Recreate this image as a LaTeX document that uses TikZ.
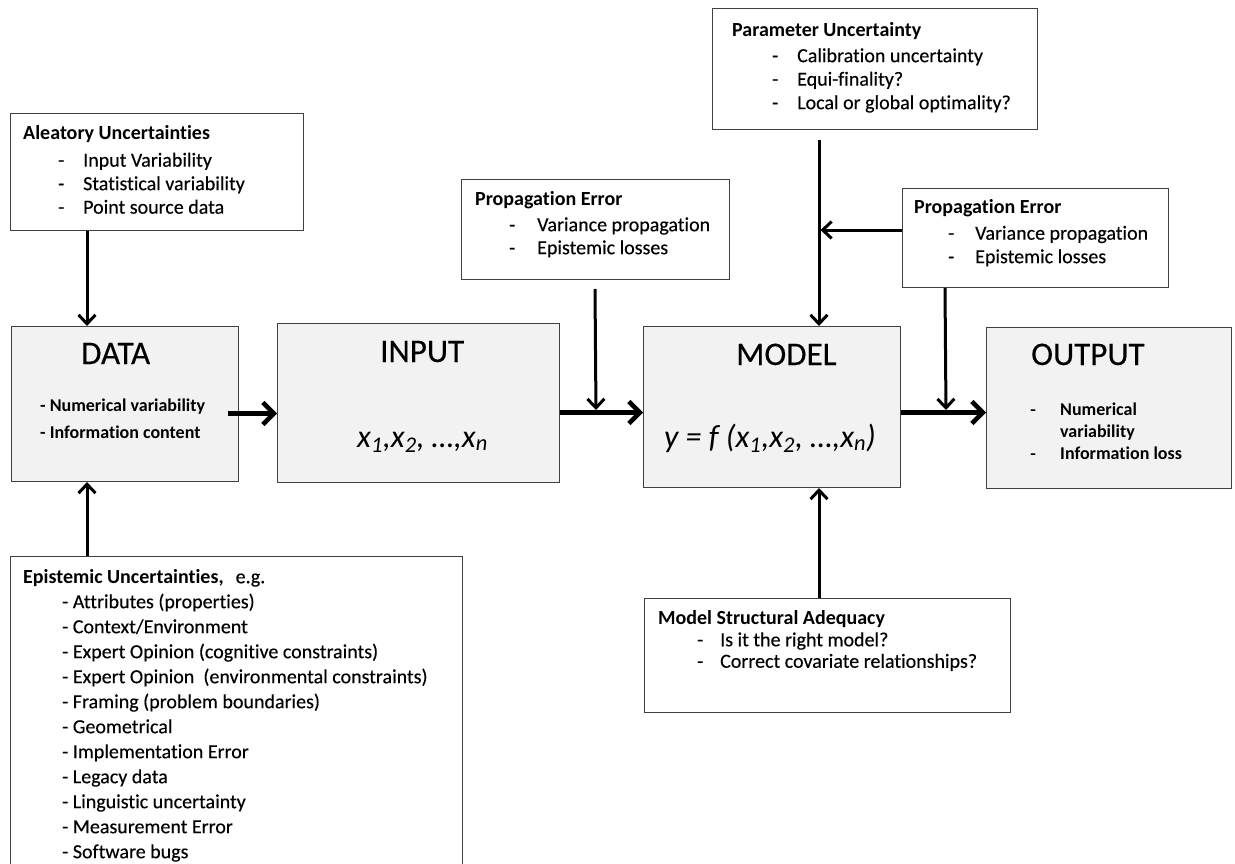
\documentclass[tikz,border=0pt]{standalone}
\usepackage{fontspec}
\setmainfont{Carlito}[UprightFeatures={FakeBold=0.3}, Ligatures=NoCommon]
\usetikzlibrary{arrows.meta,calc}
\definecolor{boxfill}{HTML}{F2F2F2}
\definecolor{boxline}{HTML}{404040}

\begin{document}
\begin{tikzpicture}[x=1pt,y=-1pt,
    box/.style={draw=boxline, line width=1pt, anchor=north west, inner sep=0pt},
    mainbox/.style={box, fill=boxfill},
    txt/.style={anchor=north west, inner sep=0pt, align=left, font=\fontsize{20}{23.5}\selectfont},
    bigtxt/.style={anchor=base west, inner sep=0pt, font=\fontsize{33}{36}\selectfont},
    formula/.style={anchor=base west, inner sep=0pt, font=\fontsize{32}{36}\selectfont\itshape},
    smalltxt/.style={anchor=north west, inner sep=0pt, align=left, font=\fontsize{18}{27}\selectfont\bfseries},
    thin/.style={-{Straight Barb[length=9pt,width=17pt]}, line width=3pt},
    thick/.style={-{Straight Barb[length=11pt,width=22pt]}, line width=4.5pt}]
    \useasboundingbox (0,0) rectangle (1235,864);

    % main chain
    \node[mainbox, minimum width=227pt, minimum height=155pt] (data) at (11,326) {};
    \node[mainbox, minimum width=282pt, minimum height=159pt] (input) at (277,323) {};
    \node[mainbox, minimum width=257pt, minimum height=161pt] (model) at (643,326) {};
    \node[mainbox, minimum width=245pt, minimum height=161pt] (output) at (986,327) {};

    \node[bigtxt] (dataT) at ($(data.north west)+(70,38)$) {DATA};
    \node[smalltxt] (dataL) at ($(data.north west)+(29,66)$) {\strut - Numerical variability\\- Information content};
    \node[bigtxt] (inputT) at ($(input.north west)+(103,39)$) {INPUT};
    \node[formula] (inputF) at ($(input.north west)+(80,124)$) {x\textsubscript{1},x\textsubscript{2}, …,x\textsubscript{n}};
    \node[bigtxt] (modelT) at ($(model.north west)+(93,39)$) {MODEL};
    \node[formula] (modelF) at ($(model.north west)+(21,121)$) {y = f (x\textsubscript{1},x\textsubscript{2}, …,x\textsubscript{n})};
    \node[bigtxt] (outputT) at ($(output.north west)+(45,38)$) {OUTPUT};
    \node[smalltxt, font=\fontsize{18}{22}\selectfont\bfseries] (outputL) at ($(output.north west)+(44,72.6)$)
        {\strut\makebox[30pt][l]{\mdseries -}Numerical\\\hspace*{30pt}variability\\\makebox[30pt][l]{\mdseries -}Information loss};

    % uncertainty boxes
    \node[box, minimum width=293pt, minimum height=117pt] (aleat) at (10,113) {};
    \node[txt] (aleatT) at ($(aleat.north west)+(13,9.5)$)
        {\strut\textbf{Aleatory Uncertainties}\\[4pt]
         \hspace*{35pt}\makebox[25pt][l]{-}Input Variability\\
         \hspace*{35pt}\makebox[25pt][l]{-}Statistical variability\\
         \hspace*{35pt}\makebox[25pt][l]{-}Point source data};

    \node[box, minimum width=268pt, minimum height=100pt] (prop1) at (461,179) {};
    \node[txt, font=\fontsize{20}{23}\selectfont] (prop1T) at ($(prop1.north west)+(14,10.4)$)
        {\strut\textbf{Propagation Error}\\[2.5pt]
         \hspace*{34pt}\makebox[28pt][l]{-}Variance propagation\\
         \hspace*{34pt}\makebox[28pt][l]{-}Epistemic losses};

    \node[box, minimum width=325pt, minimum height=121pt] (param) at (712,8) {};
    \node[txt] (paramT) at ($(param.north west)+(20,12)$)
        {\strut\textbf{Parameter Uncertainty}\\[2pt]
         \hspace*{40pt}\makebox[25pt][l]{-}Calibration uncertainty\\
         \hspace*{40pt}\makebox[25pt][l]{-}Equi-finality?\\
         \hspace*{40pt}\makebox[25pt][l]{-}Local or global optimality?};

    \node[box, minimum width=266pt, minimum height=99pt] (prop2) at (902,188) {};
    \node[txt] (prop2T) at ($(prop2.north west)+(12,9)$)
        {\strut\textbf{Propagation Error}\\[2.5pt]
         \hspace*{34pt}\makebox[27pt][l]{-}Variance propagation\\
         \hspace*{34pt}\makebox[27pt][l]{-}Epistemic losses};

    \node[box, minimum width=366pt, minimum height=114pt] (msa) at (644,598) {};
    \node[txt, font=\fontsize{20}{21.5}\selectfont] (msaT) at ($(msa.north west)+(14,11.5)$)
        {\strut\textbf{Model Structural Adequacy}\\
         \hspace*{39pt}\makebox[23pt][l]{-}Is it the right model?\\
         \hspace*{39pt}\makebox[23pt][l]{-}Correct covariate relationships?};

    \node[box, minimum width=452pt, minimum height=330pt] (epist) at (10,556) {};
    \node[txt, font=\fontsize{20}{25}\selectfont] (epistT) at ($(epist.north west)+(13,9.5)$)
        {\strut\textbf{Epistemic Uncertainties,}\hspace{12pt}e.g.\\
         \hspace*{39pt}- Attributes (properties)\\
         \hspace*{39pt}- Context/Environment\\
         \hspace*{39pt}- Expert Opinion (cognitive constraints)\\
         \hspace*{39pt}- Expert Opinion\ \ (environmental constraints)\\
         \hspace*{39pt}- Framing (problem boundaries)\\
         \hspace*{39pt}- Geometrical\\
         \hspace*{39pt}- Implementation Error\\
         \hspace*{39pt}- Legacy data\\
         \hspace*{39pt}- Linguistic uncertainty\\
         \hspace*{39pt}- Measurement Error\\
         \hspace*{39pt}- Software bugs};

    % connectors
    \coordinate (pv) at ($(param.south west)+(107,10)$);
    \coordinate (p2s) at ($(prop2.north west)+(0,42)$);
    \coordinate (j1) at ($(input.east)+(36,9.5)$);
    \coordinate (j2) at ($(model.east)+(45,5.5)$);

    \draw[thin] ($(aleat.south west)+(77,0)$) -- ($(data.north west)+(76,0)$);
    \draw[thin] ($(epist.north west)+(77,0)$) -- ($(data.south west)+(76,0)$);
    \draw[thick] ($(data.east)+(-11,9.5)$) -- ($(input.west)+(0,10.5)$);
    \draw[thick] ($(input.east)+(0,9.5)$) -- ($(model.west)+(0,5.5)$);
    \draw[thick] ($(model.east)+(0,5.5)$) -- ($(output.west)+(0,4.5)$);
    \draw[thin, shorten >=2.5pt] ($(prop1.south west)+(134,9)$) -- (j1);
    \draw[thin] (pv) -- ($(model.north west)+(176,0)$);
    \draw[thin, shorten >=1.5pt] (p2s) -- (p2s -| pv);
    \draw[thin, shorten >=2.5pt] ($(prop2.south west)+(43,0)$) -- (j2);
    \draw[thin] ($(msa.north west)+(175,0)$) -- ($(model.south west)+(176,0)$);
\end{tikzpicture}
\end{document}
